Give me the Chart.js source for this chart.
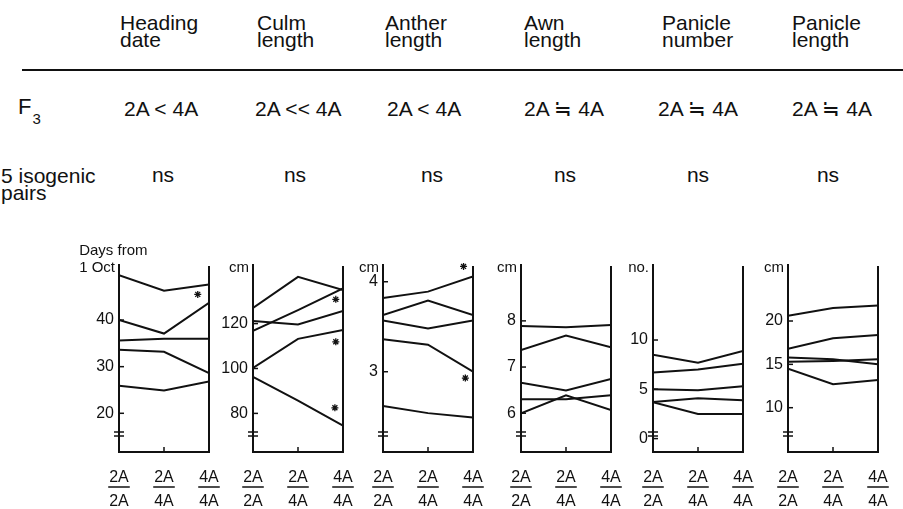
<!DOCTYPE html>
<html>
<head>
<meta charset="utf-8">
<script src="https://cdn.jsdelivr.net/npm/chart.js@4.4.1/dist/chart.umd.min.js"></script>
<style>
  body { margin: 0; background: #fff; }
  #page { position: relative; width: 903px; height: 509px; overflow: hidden; background: #fff;
          font-family: "Liberation Sans", Arial, Helvetica, sans-serif; color: #111; }
  .t { position: absolute; font-size: 21px; line-height: 17px; white-space: nowrap; }
  .rule { position: absolute; left: 22px; top: 69px; width: 881px; height: 2px; background: #111; }
  canvas { position: absolute; }
</style>
</head>
<body>
<div id="page"><div class="rule"></div></div>
<script>
// ---- data ----
const traits = [['Heading', 'date'], ['Culm', 'length'], ['Anther', 'length'],
                ['Awn', 'length'], ['Panicle', 'number'], ['Panicle', 'length']];
const f3Results = ['2A < 4A', '2A << 4A', '2A < 4A', '2A ≒ 4A', '2A ≒ 4A', '2A ≒ 4A'];
const pairResults = ['ns', 'ns', 'ns', 'ns', 'ns', 'ns'];
const genotypes = [['2A', '2A'], ['2A', '4A'], ['4A', '4A']];

// five isogenic pairs per trait, values at 2A/2A, 2A/4A, 4A/4A
const headingDate = [
  [49.6, 46.3, 47.6],
  [40.0, 37.1, 43.7],
  [35.6, 36.0, 36.0],
  [33.6, 33.2, 28.6],
  [25.9, 24.9, 26.8]
];
const culmLength = [
  [127.0, 140.8, 134.9],
  [116.8, 126.0, 135.7],
  [121.2, 119.6, 125.6],
  [100.3, 113.2, 117.1],
  [96.3, 85.7, 74.5]
];
const antherLength = [
  [3.82, 3.89, 4.06],
  [3.63, 3.79, 3.63],
  [3.57, 3.48, 3.57],
  [3.36, 3.30, 3.00],
  [2.62, 2.54, 2.49]
];
const awnLength = [
  [7.89, 7.86, 7.91],
  [7.37, 7.68, 7.43],
  [6.66, 6.49, 6.74],
  [6.30, 6.30, 6.39],
  [6.00, 6.39, 6.07]
];
const panicleNumber = [
  [8.5, 7.7, 8.9],
  [6.7, 7.0, 7.6],
  [5.0, 4.9, 5.3],
  [3.7, 4.1, 3.9],
  [3.7, 2.5, 2.5]
];
const panicleLength = [
  [20.6, 21.5, 21.8],
  [16.8, 18.0, 18.4],
  [15.8, 15.6, 15.0],
  [15.3, 15.4, 15.6],
  [14.5, 12.7, 13.2]
];

// significance asterisks [x, y]
const headingStars = [[1.75, 45.5]];
const culmStars = [[1.84, 130.8], [1.84, 111.9], [1.82, 82.5]];
const antherStars = [[1.79, 4.17], [1.83, 2.93]];

// y tick labels
const headingTicks = [20, 30, 40];
const culmTicks = [80, 100, 120];
const antherTicks = [3, 4];
const awnTicks = [6, 7, 8];
const panNumTicks = [0, 5, 10];
const panLenTicks = [10, 15, 20];

const units = [['Days from', '1 Oct'], ['cm'], ['cm'], ['cm'], ['no.'], ['cm']];

const ink = '#111';
const page = document.getElementById('page');
Chart.defaults.font.family = '"Liberation Sans", Arial, Helvetica, sans-serif';
Chart.defaults.color = ink;

// ---- header table (plain text) ----
function addText(txt, left, top, extra) {
  const d = document.createElement('div');
  d.className = 't';
  d.style.left = left + 'px';
  d.style.top = top + 'px';
  if (extra) d.style.cssText += extra;
  d.innerHTML = txt;
  page.appendChild(d);
  return d;
}
const headLeft = [120, 257, 385, 524, 662, 792];
const f3Left = [124, 255, 387, 524, 658, 792];
const nsCenter = [163, 295, 432, 565, 698, 828];

traits.forEach((t, i) => addText(t.join('<br>'), headLeft[i], 14));
addText('F<span style="font-size:15px;position:relative;top:10px;left:1px">3</span>', 18, 98, 'font-size:22px');
f3Results.forEach((t, i) => addText(t, f3Left[i], 100));
addText('5 isogenic<br>pairs', 1, 167);
pairResults.forEach((t, i) => addText(t, nsCenter[i] - 40, 166, 'width:80px;text-align:center'));

// ---- panel decorations ----
const decor = {
  id: 'decor',
  afterDraw(chart, args, opts) {
    const ctx = chart.ctx;
    const a = chart.chartArea;
    const xs = chart.scales.x, ys = chart.scales.y;
    ctx.save();
    ctx.strokeStyle = ink;
    ctx.fillStyle = ink;
    // right frame line
    ctx.lineWidth = 2;
    ctx.beginPath();
    ctx.moveTo(a.right, a.top + 1);
    ctx.lineTo(a.right, a.bottom);
    ctx.stroke();
    // inner ticks on y axis
    ctx.lineWidth = 1.5;
    ys.ticks.forEach(t => {
      if (t.value <= ys.min) return;
      const y = ys.getPixelForValue(t.value);
      ctx.beginPath();
      ctx.moveTo(a.left, y);
      ctx.lineTo(a.left + 5, y);
      ctx.stroke();
    });
    // middle tick on x axis
    const mx = xs.getPixelForValue(1);
    ctx.beginPath();
    ctx.moveTo(mx, a.bottom);
    ctx.lineTo(mx, a.bottom - 5);
    ctx.stroke();
    // axis break
    [20, 16].forEach(d => {
      ctx.beginPath();
      ctx.moveTo(a.left - 5, a.bottom - d);
      ctx.lineTo(a.left + 5, a.bottom - d);
      ctx.stroke();
    });
    // unit label
    ctx.font = '15px "Liberation Sans", Arial, sans-serif';
    ctx.textBaseline = 'alphabetic';
    ctx.textAlign = 'left';
    const unit = opts.unit;
    const lastW = ctx.measureText(unit[unit.length - 1]).width;
    const ux = a.left - 4 - lastW;
    unit.forEach((u, i) => {
      ctx.fillText(u, ux, a.top + 7 - (unit.length - 1 - i) * 17);
    });
    // fraction bars under the genotype numerators
    ctx.font = '16px "Liberation Sans", Arial, sans-serif';
    ctx.lineWidth = 1.5;
    xs.ticks.forEach((t, i) => {
      const px = xs.getPixelForValue(t.value);
      const w = ctx.measureText(genotypes[i][0]).width + 2;
      ctx.beginPath();
      ctx.moveTo(px - w / 2, a.bottom + 35);
      ctx.lineTo(px + w / 2, a.bottom + 35);
      ctx.stroke();
    });
    ctx.restore();
  }
};

const panels = [
  { left: 119, rows: headingDate, stars: headingStars, ticks: headingTicks, unit: units[0], min: 11.7, max: 51.8 },
  { left: 253, rows: culmLength, stars: culmStars, ticks: culmTicks, unit: units[1], min: 62.8, max: 146.1 },
  { left: 383, rows: antherLength, stars: antherStars, ticks: antherTicks, unit: units[2], min: 2.108, max: 4.186 },
  { left: 521, rows: awnLength, stars: [], ticks: awnTicks, unit: units[3], min: 5.16, max: 9.21 },
  { left: 653, rows: panicleNumber, stars: [], ticks: panNumTicks, unit: units[4], min: -1.36, max: 17.61 },
  { left: 788, rows: panicleLength, stars: [], ticks: panLenTicks, unit: units[5], min: 4.89, max: 26.46 }
];

function makePanel(p) {
  const canvas = document.createElement('canvas');
  canvas.width = 165;
  canvas.height = 279;
  canvas.style.left = (p.left - 50) + 'px';
  canvas.style.top = '230px';
  page.appendChild(canvas);

  const datasets = p.rows.map(r => ({
    data: r.map((v, i) => ({ x: i, y: v })),
    borderColor: ink,
    borderWidth: 2,
    pointRadius: 0,
    tension: 0,
    fill: false
  }));
  if (p.stars.length) {
    datasets.push({
      type: 'scatter',
      data: p.stars.map(s => ({ x: s[0], y: s[1] })),
      pointStyle: 'star',
      pointRadius: 3.5,
      borderColor: ink,
      borderWidth: 1.3,
      clip: false
    });
  }

  new Chart(canvas, {
    type: 'line',
    data: { datasets: datasets },
    plugins: [decor],
    options: {
      responsive: false,
      animation: false,
      events: [],
      layout: { padding: { top: 35, right: 25, left: 0, bottom: 0 } },
      plugins: {
        legend: { display: false },
        tooltip: { enabled: false },
        decor: { unit: p.unit }
      },
      scales: {
        x: {
          type: 'linear',
          min: 0,
          max: 2,
          afterBuildTicks: s => { s.ticks = genotypes.map((g, i) => ({ value: i })); },
          afterFit: s => { s.height = 57; },
          grid: { display: false, drawTicks: false },
          border: { display: true, color: ink, width: 2 },
          ticks: {
            padding: 14,
            maxRotation: 0,
            autoSkip: false,
            color: ink,
            font: { size: 16, lineHeight: 1.5 },
            callback: (v, i) => genotypes[i]
          }
        },
        y: {
          min: p.min,
          max: p.max,
          afterBuildTicks: s => { s.ticks = p.ticks.map(v => ({ value: Math.max(v, s.min) })); },
          afterFit: s => { s.width = 50; },
          grid: { display: false, drawTicks: false },
          border: { display: true, color: ink, width: 2 },
          ticks: {
            padding: 5,
            color: ink,
            font: { size: 16 },
            callback: (v, i) => String(p.ticks[i])
          }
        }
      }
    }
  });
}

panels.forEach(makePanel);
</script>
</body>
</html>
